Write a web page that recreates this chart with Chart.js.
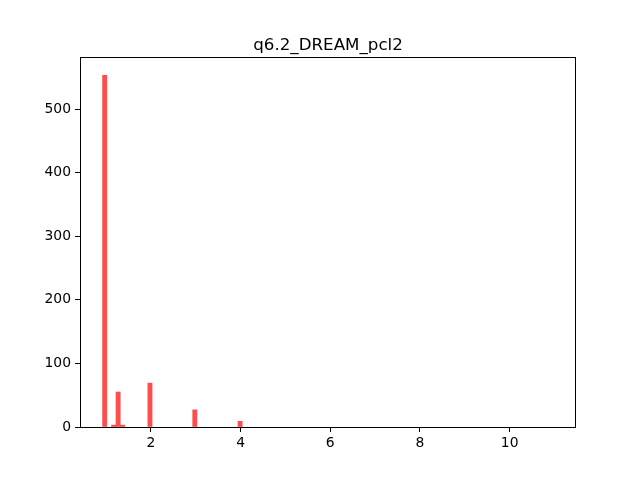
<!DOCTYPE html>
<html>
<head>
<meta charset="utf-8">
<script src="https://cdn.jsdelivr.net/npm/chart.js@4/dist/chart.umd.min.js"></script>
<style>
  html, body { margin: 0; padding: 0; background: #fff; }
  #wrap { width: 640px; height: 480px; }
</style>
</head>
<body>
<div id="wrap"><canvas id="histChart" width="640" height="480"></canvas></div>
<script>
// histogram bins (centres) and counts
const binCenters = [0.97, 1.17, 1.27, 1.37, 1.98, 2.98, 3.99];
const binCounts = [553, 3, 55, 3, 69, 27, 9];
const xTicks = [2, 4, 6, 8, 10];
const yTicks = [0, 100, 200, 300, 400, 500];
const chartTitle = 'q6.2_DREAM_pcl2';

const FONT = 'DejaVu Sans';

// title over the axes centre and a frame round the plot, matplotlib style
const framePlugin = {
    id: 'frame',
    afterDraw(chart) {
        const { ctx, chartArea: a } = chart;
        ctx.save();
        ctx.strokeStyle = '#000';
        ctx.lineWidth = 1;
        ctx.strokeRect(a.left + 0.5, a.top - 0.5, a.right - a.left - 1, a.bottom - a.top + 1);
        ctx.fillStyle = '#000';
        ctx.font = '16.7px "' + FONT + '"';
        ctx.textAlign = 'center';
        ctx.textBaseline = 'alphabetic';
        ctx.fillText(chartTitle, (a.left + a.right) / 2, a.top - 8);
        ctx.restore();
    }
};

const ctx = document.getElementById('histChart').getContext('2d');
new Chart(ctx, {
    type: 'bar',
    data: {
        datasets: [{
            data: binCenters.map((x, i) => ({ x: x, y: binCounts[i] })),
            backgroundColor: 'rgba(255, 0, 0, 0.7)',
            borderWidth: 0,
            barThickness: 4.2
        }]
    },
    options: {
        responsive: false,
        animation: false,
        layout: { padding: { left: 0, right: 64, top: 58, bottom: 0 } },
        plugins: {
            legend: { display: false },
            tooltip: { enabled: false }
        },
        scales: {
            x: {
                type: 'linear',
                offset: false,
                min: 0.42,
                max: 11.48,
                afterBuildTicks: s => { s.ticks = xTicks.map(v => ({ value: v })); },
                afterFit: s => { s.height = 53; },
                grid: { display: true, offset: false, drawOnChartArea: false, drawTicks: true, tickLength: 5, color: '#000' },
                border: { display: false },
                ticks: { color: '#000', font: { family: FONT, size: 13.9 }, padding: 3, maxRotation: 0 }
            },
            y: {
                min: 0,
                max: 580.3,
                afterBuildTicks: s => { s.ticks = yTicks.map(v => ({ value: v })); },
                afterFit: s => { s.width = 80; },
                grid: { display: true, drawOnChartArea: false, drawTicks: true, tickLength: 5, color: '#000' },
                border: { display: false },
                ticks: { color: '#000', font: { family: FONT, size: 13.9 }, padding: 4 }
            }
        }
    },
    plugins: [framePlugin]
});
</script>
</body>
</html>
